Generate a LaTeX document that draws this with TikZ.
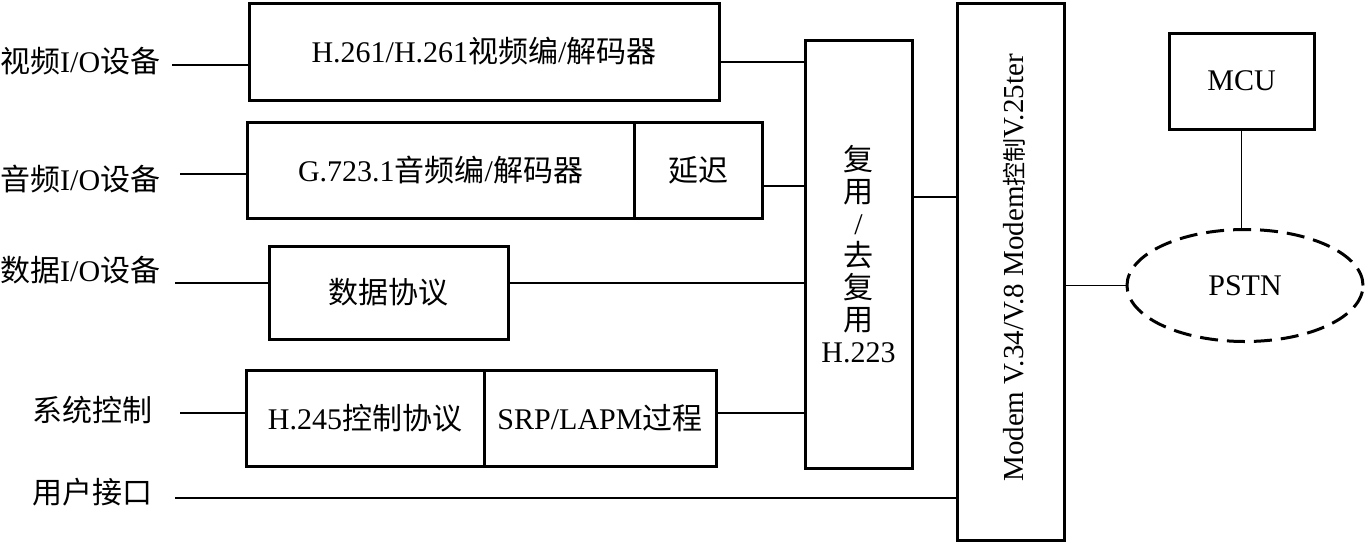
\documentclass[tikz,border=0pt]{standalone}
\usepackage{fontspec}
\setmainfont{Liberation Serif}
\newfontfamily\cjk{Noto Sans CJK SC}
\newcommand\zh[1]{{\cjk #1}}
\usetikzlibrary{shapes.geometric}
\begin{document}
\begin{tikzpicture}[x=1pt,y=-1pt,
  box/.style={draw, line width=3pt, inner sep=0pt, font=\fontsize{30}{34}\selectfont},
  lbl/.style={inner sep=0pt, anchor=west, font=\fontsize{30}{34}\selectfont},
  conn/.style={line width=1.8pt}]
\useasboundingbox (0,0) rectangle (1366,542);
\fill[white] (0,0) rectangle (1366,542);
% boxes
\node[box, minimum width=470pt, minimum height=97pt] (video) at (484,51.5) {H.261/H.261\zh{视频编}/\zh{解码器}};
\node[box, minimum width=387pt, minimum height=96pt] (audio) at (440.5,170) {G.723.1\zh{音频编}/\zh{解码器}};
\node[box, minimum width=128pt, minimum height=96pt] (delay) at (698,170) {\zh{延迟}};
\node[box, minimum width=239pt, minimum height=93pt] (data) at (388.5,292.5) {\zh{数据协议}};
\node[box, minimum width=238pt, minimum height=96pt] (h245) at (365,418) {H.245\zh{控制协议}};
\node[box, minimum width=232pt, minimum height=96pt] (srp) at (600,418) {SRP/LAPM\zh{过程}};
\node[box, minimum width=107pt, minimum height=428pt, align=center, font=\fontsize{30}{32}\selectfont] (mux) at (858.5,254) {\zh{复}\\\zh{用}\\/\\\zh{去}\\\zh{复}\\\zh{用}\\H.223};
\node[box, minimum width=107pt, minimum height=537pt] (modem) at (1010.5,271.5) {};
\node[rotate=90, inner sep=0pt, font=\fontsize{29}{32}\selectfont] (modemtxt) at (1014,268) {Modem V.34/V.8 Modem{\fontsize{24}{28}\selectfont\zh{控制}}V.25ter};
\node[box, minimum width=145pt, minimum height=96pt] (mcu) at (1241.5,81) {MCU};
\node[box, ellipse, dash pattern=on 18pt off 9pt, minimum width=236pt, minimum height=112pt] (pstn) at (1245,285.5) {PSTN};
% labels
\node[lbl] (lv) at (0,61) {\zh{视频}I/O\zh{设备}};
\node[lbl] (la) at (0,179) {\zh{音频}I/O\zh{设备}};
\node[lbl] (ld) at (0,270) {\zh{数据}I/O\zh{设备}};
\node[lbl] (ls) at (32,410) {\zh{系统控制}};
\node[lbl] (lu) at (32,492) {\zh{用户接口}};
% connector starts
\coordinate (cv) at (172,65);
\coordinate (ca) at (180,174);
\coordinate (cd) at (175,283);
\coordinate (cs) at (180,413);
\coordinate (cu) at (175,498);
\draw[conn] (cv) -- (cv -| video.west);
\draw[conn] (ca) -- (ca -| audio.west);
\draw[conn] (cd) -- (cd -| data.west);
\draw[conn] (cs) -- (cs -| h245.west);
\draw[conn] (cu) -- (cu -| modem.west);
\draw[conn] (video.east |- 0,62) -- (mux.west |- 0,62);
\draw[conn] (delay.east |- 0,186) -- (mux.west |- 0,186);
\draw[conn] (data.east |- 0,283) -- (mux.west |- 0,283);
\draw[conn] (srp.east |- 0,413) -- (mux.west |- 0,413);
\draw[conn] (mux.east |- 0,197) -- (modem.west |- 0,197);
\draw[conn] (modem.east |- pstn.west) -- (pstn.west);
\draw[conn] (mcu.south) -- (mcu.south |- pstn.north);
\end{tikzpicture}
\end{document}
